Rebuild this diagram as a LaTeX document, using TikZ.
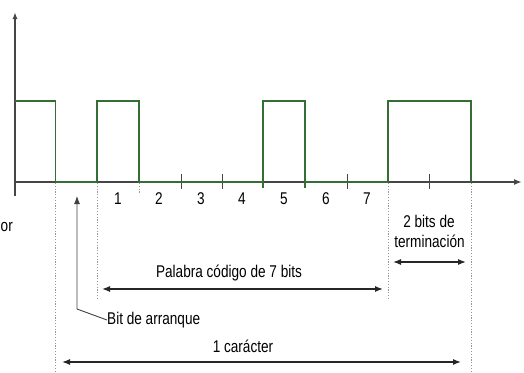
\documentclass[tikz,border=0pt]{standalone}
\usepackage{fontspec}
\setmainfont{Liberation Sans}[FakeStretch=0.8]
\usetikzlibrary{arrows.meta}
\definecolor{sigcol}{RGB}{52,110,52}
\definecolor{axcol}{RGB}{70,70,70}
\definecolor{dotcol}{RGB}{150,150,150}
\tikzset{
  axis/.style={draw=axcol, line width=1.8pt},
  sig/.style={draw=sigcol, line width=1.8pt, line join=miter},
  tickmark/.style={draw=axcol, line width=1pt},
  dotline/.style={draw=dotcol, line width=0.8pt, dash pattern=on 1.2pt off 1.6pt},
  lbl/.style={font=\fontsize{17}{19}\selectfont, inner sep=0pt, text=black},
  dim/.style={draw=black!85, line width=1.2pt, {Latex[length=8pt,width=6pt]}-{Latex[length=8pt,width=6pt]}},
  ptr/.style={draw=black!75, line width=0.9pt, -{Latex[length=8pt,width=6pt]}}
}
\begin{document}
\begin{tikzpicture}[x=1pt,y=-1pt]
\useasboundingbox (0,0) rectangle (524,372);
% axes
\coordinate (ybot) at (15,196);
\coordinate (ytop) at (15,12);
\coordinate (o) at (15,182);
\coordinate (xend) at (522,182);
\draw[axis,-{Latex[length=7pt,width=5pt]}] (ybot) -- (ytop);
\draw[axis,-{Latex[length=8pt,width=6pt]}] (o) -- (xend);
% ticks
\foreach \x in {181,222,347,429} \draw[tickmark] (\x,174) -- (\x,189);
\foreach \x in {263,305} \draw[draw=sigcol,line width=1.5pt] (\x,182) -- (\x,188);
\draw[dotline] (139,183) -- (139,193);
% dotted guides
\draw[dotline] (55.5,183) -- (55.5,372);
\draw[dotline] (97,183) -- (97,300);
\draw[dotline] (388,183) -- (388,300);
\draw[dotline] (471,183) -- (471,372);
% signal
\draw[sig] (15,101) -- (55.5,101) -- (55.5,182) -- (97,182) -- (97,101) -- (139,101) -- (139,182)
  -- (263,182) -- (263,101) -- (305,101) -- (305,182) -- (388,182) -- (388,101) -- (471,101) -- (471,182);
% bit numbers
\node[lbl] (b1) at (118,199) {1};
\node[lbl] (b2) at (159,199) {2};
\node[lbl] (b3) at (201,199) {3};
\node[lbl] (b4) at (242,199) {4};
\node[lbl] (b5) at (284,199) {5};
\node[lbl] (b6) at (326,199) {6};
\node[lbl] (b7) at (367,199) {7};
% stop bits
\node[lbl] (stop1) at (429,221) {2 bits de};
\node[lbl] (stop2) at (429.5,241) {terminación};
\coordinate (sA) at (393,262);
\coordinate (sB) at (466,262);
\draw[dim] (sA) -- (sB);
% code word
\node[lbl] (pal) at (229,273) {Palabra código de 7 bits};
\coordinate (pA) at (102,289);
\coordinate (pB) at (383,289);
\draw[dim] (pA) -- (pB);
% start bit
\node[lbl, anchor=west] (arr) at (107,320) {Bit de arranque};
\coordinate (bend) at (77,309);
\coordinate (stip) at (77,196);
\draw[ptr] (arr.west) -- (bend) -- (stip);
% one character
\node[lbl] (car) at (243,346) {1 carácter};
\coordinate (cA) at (62,362);
\coordinate (cB) at (461,362);
\draw[dim] (cA) -- (cB);
% fragment at the left edge
\node[lbl, anchor=west] (frag) at (0.5,227) {or};
\end{tikzpicture}
\end{document}
